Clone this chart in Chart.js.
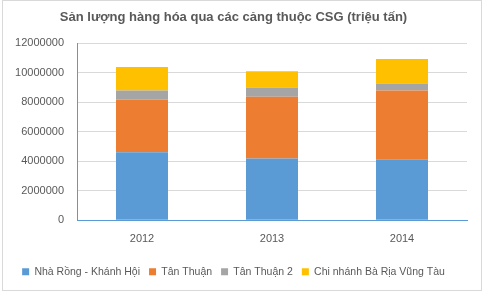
<!DOCTYPE html>
<html>
<head>
<meta charset="utf-8">
<script src="https://cdn.jsdelivr.net/npm/chart.js@4/dist/chart.umd.min.js"></script>
<style>
  html, body { margin: 0; padding: 0; background: #fff; }
  #wrap { position: relative; width: 485px; height: 302px; }
</style>
</head>
<body>
<div id="wrap"><canvas id="c" width="485" height="302"></canvas></div>
<script>
// data
const years = ['2012', '2013', '2014'];
const nhaRongKhanhHoi = [4600000, 4180000, 4090000];
const tanThuan = [3570000, 4190000, 4690000];
const tanThuan2 = [620000, 620000, 480000];
const baRiaVungTau = [1590000, 1100000, 1660000];

const textColor = '#595959';

// white background + light outline like the excel chart frame
const framePlugin = {
  id: 'frame',
  beforeDraw(chart) {
    const ctx = chart.ctx;
    ctx.save();
    ctx.fillStyle = '#fff';
    ctx.fillRect(0, 0, chart.width, chart.height);
    ctx.strokeStyle = '#d9d9d9';
    ctx.lineWidth = 1;
    ctx.strokeRect(2.5, 0.5, 479, 290);
    ctx.restore();
  }
};

new Chart(document.getElementById('c'), {
  type: 'bar',
  data: {
    labels: years,
    datasets: [
      { label: 'Nhà Rồng - Khánh Hội', data: nhaRongKhanhHoi, backgroundColor: '#5b9bd5' },
      { label: 'Tân Thuận', data: tanThuan, backgroundColor: '#ed7d31' },
      { label: 'Tân Thuận 2', data: tanThuan2, backgroundColor: '#a5a5a5' },
      { label: 'Chi nhánh Bà Rịa Vũng Tàu', data: baRiaVungTau, backgroundColor: '#ffc000' }
    ]
  },
  options: {
    responsive: false,
    animation: false,
    devicePixelRatio: 1,
    categoryPercentage: 1,
    barPercentage: 0.4,
    layout: { padding: { left: 0, right: 18, top: 0, bottom: 15 } },
    plugins: {
      tooltip: { enabled: false },
      title: {
        display: true,
        text: 'Sản lượng hàng hóa qua các cảng thuộc CSG (triệu tấn)',
        color: textColor,
        font: { family: 'Arial, "Liberation Sans"', size: 13, weight: 'bold' },
        padding: { top: 10, bottom: 17.4 }
      },
      legend: {
        position: 'bottom',
        labels: {
          color: textColor,
          font: { family: 'Arial, "Liberation Sans"', size: 10.5 },
          boxWidth: 7,
          boxHeight: 7,
          padding: 9
        }
      }
    },
    scales: {
      x: {
        stacked: true,
        grid: { display: false, drawTicks: false },
        border: { color: '#5b9bd5' },
        ticks: { color: textColor, font: { family: 'Arial, "Liberation Sans"', size: 11 }, padding: 12 }
      },
      y: {
        stacked: true,
        min: 0,
        max: 12000000,
        grid: { color: '#d9d9d9', drawTicks: false },
        border: { color: '#5b9bd5' },
        ticks: {
          stepSize: 2000000,
          color: textColor,
          font: { family: 'Arial, "Liberation Sans"', size: 11 },
          padding: 13,
          callback: (v) => String(v)
        },
        afterFit(scale) { scale.width = 77; }
      }
    }
  },
  plugins: [framePlugin]
});
</script>
</body>
</html>
